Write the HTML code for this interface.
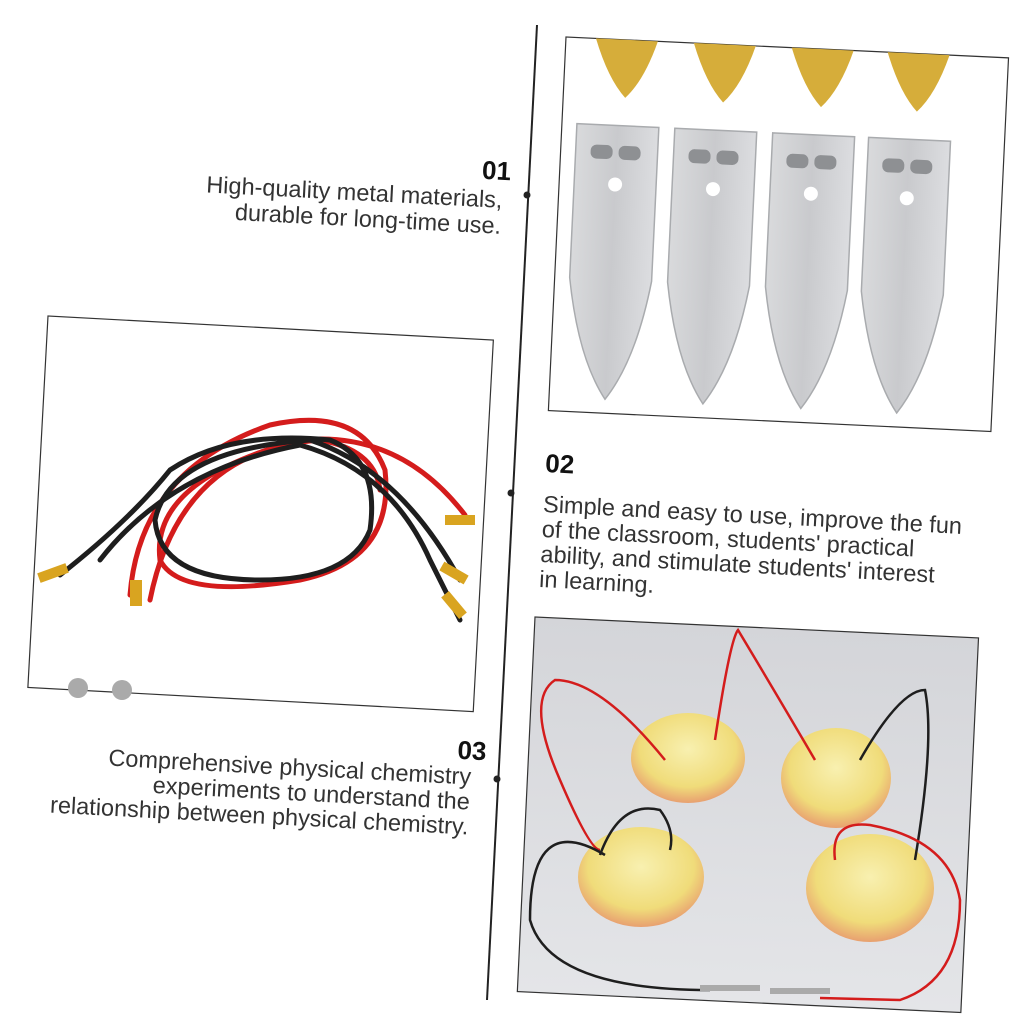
<!DOCTYPE html>
<html><head><style>
html,body{margin:0;padding:0;background:#fff;}
svg{display:block;}
text{font-family:"Liberation Sans",sans-serif;}
</style></head><body>
<svg width="1024" height="1024" viewBox="0 0 1024 1024" xmlns="http://www.w3.org/2000/svg">
<defs>
<linearGradient id="bg3" x1="0" y1="0" x2="0" y2="1"><stop offset="0" stop-color="#d4d5d9"/><stop offset="1" stop-color="#e4e5e8"/></linearGradient>
<linearGradient id="sil" x1="0" y1="0" x2="1" y2="0"><stop offset="0" stop-color="#d9dadc"/><stop offset="0.5" stop-color="#c9cacd"/><stop offset="1" stop-color="#dcdde0"/></linearGradient>
<radialGradient id="apple" cx="0.5" cy="0.4" r="0.6"><stop offset="0" stop-color="#f8f0b0"/><stop offset="0.7" stop-color="#f0dc7a"/><stop offset="1" stop-color="#e8a070"/></radialGradient>
</defs>
<line x1="537" y1="25" x2="487" y2="1000" stroke="#222" stroke-width="2"/>
<circle cx="527" cy="195" r="3.5" fill="#222"/>
<circle cx="511" cy="493" r="3.5" fill="#222"/>
<circle cx="497" cy="779" r="3.5" fill="#222"/>

<g transform="translate(566,37) rotate(2.7)">
<rect x="0" y="0" width="443" height="374" fill="#fff" stroke="#333" stroke-width="1.2"/>
<g fill="#d6ad3a">
<path d="M30 0 L92 0 Q80 40 62 58 Q44 40 30 0Z"/>
<path d="M128 0 L190 0 Q178 40 160 58 Q142 40 128 0Z"/>
<path d="M226 0 L288 0 Q276 40 258 58 Q240 40 226 0Z"/>
<path d="M322 0 L384 0 Q372 40 354 58 Q336 40 322 0Z"/>
</g>
<g fill="url(#sil)" stroke="#a9abae" stroke-width="1.5">
<path d="M15 86 L97 86 L97 240 Q85 320 56 360 Q27 320 15 240Z"/>
<path d="M113 86 L195 86 L195 240 Q183 320 154 360 Q125 320 113 240Z"/>
<path d="M211 86 L293 86 L293 240 Q281 320 252 360 Q223 320 211 240Z"/>
<path d="M307 86 L389 86 L389 240 Q377 320 348 360 Q319 320 307 240Z"/>
</g>
<g fill="#fff"><circle cx="56" cy="145" r="7"/><circle cx="154" cy="145" r="7"/><circle cx="252" cy="145" r="7"/><circle cx="348" cy="145" r="7"/></g>
<g fill="#8e9093"><rect x="30" y="106" width="22" height="14" rx="6"/><rect x="58" y="106" width="22" height="14" rx="6"/><rect x="128" y="106" width="22" height="14" rx="6"/><rect x="156" y="106" width="22" height="14" rx="6"/><rect x="226" y="106" width="22" height="14" rx="6"/><rect x="254" y="106" width="22" height="14" rx="6"/><rect x="322" y="106" width="22" height="14" rx="6"/><rect x="350" y="106" width="22" height="14" rx="6"/></g>
</g>

<g transform="translate(48,316) rotate(3.1)">
<rect x="0" y="0" width="446" height="372" fill="#fff" stroke="#333" stroke-width="1.2"/>
</g>
<g fill="none" stroke-linecap="round">
<path d="M130 595 Q140 470 270 425 Q360 405 385 470 Q395 560 300 580 Q180 600 160 560 Q150 480 300 440 Q400 430 465 515" stroke="#d41c1c" stroke-width="5"/>
<path d="M150 600 Q180 450 320 440 Q375 450 380 490" stroke="#d41c1c" stroke-width="5"/>
<path d="M60 575 Q130 520 170 470 Q230 430 330 440 Q380 460 370 530 Q350 580 260 580 Q160 580 155 520 Q170 450 310 440 Q400 470 460 580" stroke="#1e1e1e" stroke-width="5"/>
<path d="M100 560 Q170 470 300 445 Q390 470 430 560 Q450 600 460 620" stroke="#1e1e1e" stroke-width="5"/>
</g>
<g fill="#d9a420">
<rect x="38" y="568" width="30" height="10" transform="rotate(-20 53 573)"/>
<rect x="130" y="580" width="12" height="26"/>
<rect x="445" y="515" width="30" height="10"/>
<rect x="440" y="568" width="28" height="10" transform="rotate(30 454 573)"/>
<rect x="440" y="600" width="28" height="10" transform="rotate(50 454 605)"/>
</g>
<circle cx="78" cy="688" r="10" fill="#aaa"/><circle cx="122" cy="690" r="10" fill="#aaa"/>

<g transform="translate(535,617) rotate(2.7)">
<rect x="0" y="0" width="444" height="375" fill="url(#bg3)" stroke="#333" stroke-width="1.2"/>
</g>
<g>
<ellipse cx="688" cy="758" rx="57" ry="45" fill="url(#apple)"/>
<ellipse cx="836" cy="778" rx="55" ry="50" fill="url(#apple)"/>
<ellipse cx="641" cy="877" rx="63" ry="50" fill="url(#apple)"/>
<ellipse cx="870" cy="888" rx="64" ry="54" fill="url(#apple)"/>
</g>
<g fill="none" stroke-width="2.5">
<path d="M665 760 Q600 680 555 680 Q525 700 560 780 Q590 850 600 850" stroke="#d41c1c"/>
<path d="M715 740 Q730 640 738 630 Q780 700 815 760" stroke="#d41c1c"/>
<path d="M860 760 Q900 690 925 690 Q935 740 915 860" stroke="#1e1e1e"/>
<path d="M600 855 Q620 800 660 810 Q675 830 670 850" stroke="#1e1e1e"/>
<path d="M605 855 Q530 810 530 920 Q550 990 710 990" stroke="#1e1e1e"/>
<path d="M835 860 Q830 820 870 825 Q950 840 960 900 Q960 980 900 1000 L820 998" stroke="#d41c1c"/>
</g>
<rect x="700" y="985" width="60" height="6" fill="#aaa"/><rect x="770" y="988" width="60" height="6" fill="#aaa"/>

<g fill="#333" font-size="23.5">
<g transform="rotate(3 505 190)">
<text x="510" y="180" text-anchor="end" font-size="26" font-weight="bold" fill="#111">01</text>
<text x="503" y="208" text-anchor="end">High-quality metal materials,</text>
<text x="503" y="234" text-anchor="end">durable for long-time use.</text>
</g>
<g transform="rotate(3 545 470)">
<text x="545" y="472" font-size="26" font-weight="bold" fill="#111">02</text>
<text x="545" y="512">Simple and easy to use, improve the fun</text>
<text x="545" y="537">of the classroom, students' practical</text>
<text x="545" y="562">ability, and stimulate students' interest</text>
<text x="545" y="587">in learning.</text>
</g>
<g transform="rotate(3 480 760)">
<text x="486" y="760" text-anchor="end" font-size="26" font-weight="bold" fill="#111">03</text>
<text x="472" y="785" text-anchor="end">Comprehensive physical chemistry</text>
<text x="472" y="810" text-anchor="end">experiments to understand the</text>
<text x="472" y="835" text-anchor="end">relationship between physical chemistry.</text>
</g>
</g>
</svg>
</body></html>
